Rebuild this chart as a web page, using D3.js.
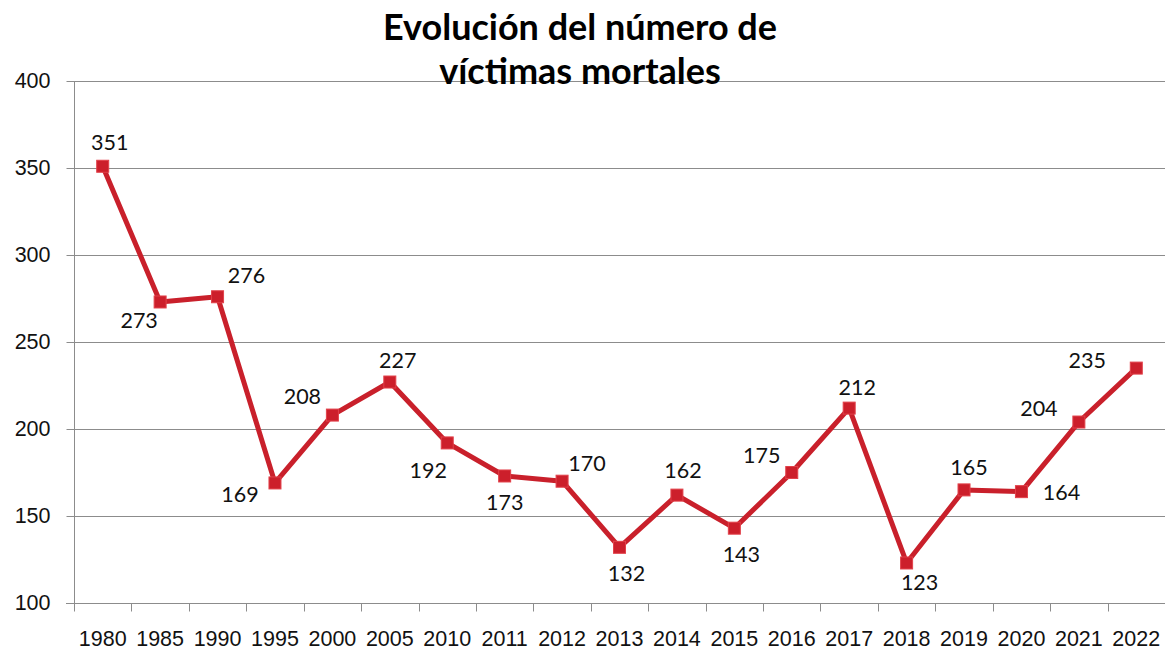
<!DOCTYPE html>
<html>
<head>
<meta charset="utf-8">
<script src="https://cdn.jsdelivr.net/npm/d3@7"></script>
<style>
  html, body { margin: 0; padding: 0; background: #fff; }
  svg { display: block; font-family: Lato, "Open Sans", sans-serif; }
  .grid line { stroke: #8c8c8c; stroke-width: 1; }
  .axis path, .axis line { stroke: #8c8c8c; stroke-width: 1; }
  .axis text { fill: #111; font-size: 21.5px; }
  .val { fill: #111; font-size: 21.5px; }
</style>
</head>
<body>
<svg id="chart" width="1165" height="651"></svg>
<script>
// data
const years = ['1980', '1985', '1990', '1995', '2000', '2005', '2010', '2011', '2012', '2013',
  '2014', '2015', '2016', '2017', '2018', '2019', '2020', '2021', '2022'];
const victims = [351, 273, 276, 169, 208, 227, 192, 173, 170, 132, 162, 143, 175, 212, 123, 165, 164, 204, 235];
const yTicks = [100, 150, 200, 250, 300, 350, 400];
const titleLines = ['Evolución del número de', 'víctimas mortales'];
// label centre relative to its marker (px)
const labelShift = [[7, -24], [-21, 18], [29, -22], [-35, 11], [-30, -19], [8, -22], [-19, 27],
  [0, 26], [25, -18], [7, 26], [6, -25], [7, 26], [-30, -17], [8, -21], [13, 19], [5, -23],
  [40, 1], [-40, -14], [-49, -8]];

const W = 1165, H = 651;
const m = { top: 81, right: 0, bottom: 48, left: 74 };
const svg = d3.select('#chart');

const x = d3.scaleBand().domain(years).range([m.left, W - m.right]);
const y = d3.scaleLinear().domain([100, 400]).range([H - m.bottom, m.top]);

// horizontal gridlines
svg.append('g').attr('class', 'grid')
  .selectAll('line').data(yTicks.slice(1)).join('line')
  .attr('x1', m.left).attr('x2', W)
  .attr('y1', d => Math.round(y(d)) + 0.5).attr('y2', d => Math.round(y(d)) + 0.5);

// y axis
const yAxis = svg.append('g').attr('class', 'axis')
  .attr('transform', `translate(${m.left + 0.5},0)`)
  .call(d3.axisLeft(y).tickValues(yTicks).tickSize(8).tickPadding(16));
yAxis.select('.domain').attr('d', `M0,${y(400)}V${y(100)}`);

// x axis, ticks on category boundaries
const xAxis = svg.append('g').attr('class', 'axis')
  .attr('transform', `translate(0,${Math.round(y(100)) + 0.5})`)
  .call(d3.axisBottom(x).tickSize(0));
xAxis.select('.domain').attr('d', `M${m.left - 8},0H${W}`);
xAxis.selectAll('.bound').data(years).join('line').attr('class', 'bound')
  .attr('x1', d => Math.round(x(d)) + 0.5).attr('x2', d => Math.round(x(d)) + 0.5)
  .attr('y1', 0).attr('y2', 8);
xAxis.selectAll('.tick text').attr('y', 42).attr('dy', 0);

// title
svg.append('g').selectAll('text').data(titleLines).join('text')
  .attr('x', 580).attr('y', (d, i) => 40 + i * 44)
  .attr('text-anchor', 'middle')
  .attr('font-size', 36).attr('font-weight', 'bold').attr('fill', '#000')
  .text(d => d);

// line + markers
const cx = (d, i) => x(years[i]) + x.bandwidth() / 2;
const line = d3.line().x(cx).y(d => y(d));
svg.append('path').datum(victims)
  .attr('d', line)
  .attr('fill', 'none').attr('stroke', '#c9202b').attr('stroke-width', 5)
  .attr('stroke-linejoin', 'round');

svg.append('g').selectAll('rect').data(victims).join('rect')
  .attr('x', (d, i) => cx(d, i) - 6).attr('y', d => y(d) - 6)
  .attr('width', 12).attr('height', 12)
  .attr('fill', '#cc1f2b').attr('stroke', '#e2414a').attr('stroke-width', 1);

// value labels
svg.append('g').selectAll('text').data(victims).join('text')
  .attr('class', 'val')
  .attr('x', (d, i) => cx(d, i) + labelShift[i][0])
  .attr('y', (d, i) => y(d) + labelShift[i][1])
  .attr('dy', '0.36em')
  .attr('text-anchor', 'middle')
  .text(d => d);
</script>
</body>
</html>
